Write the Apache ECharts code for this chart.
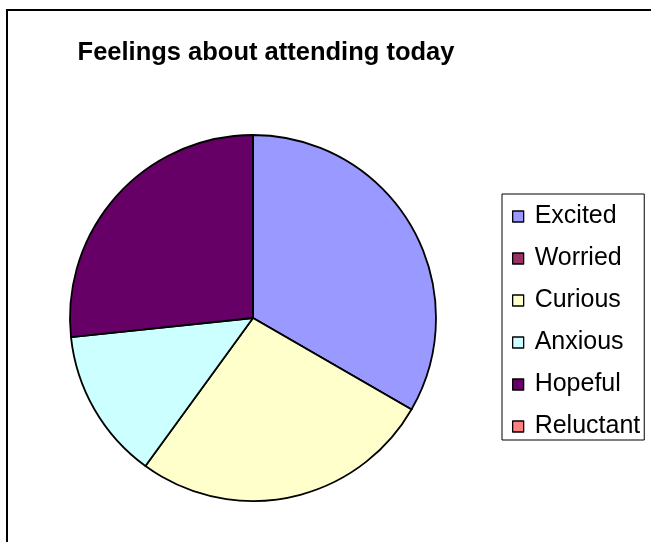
<!DOCTYPE html>
<html>
<head>
<meta charset="utf-8">
<script src="https://cdn.jsdelivr.net/npm/echarts@6/dist/echarts.min.js"></script>
<style>
html,body{margin:0;padding:0;background:#fff;}
#c{width:651px;height:542px;}
</style>
</head>
<body>
<div id="c"></div>
<script>
var titleText = 'Feelings about attending today';
var categories = ['Excited', 'Worried', 'Curious', 'Anxious', 'Hopeful', 'Reluctant'];
var values = [5, 0, 4, 2, 4, 0];
var colors = ['#9999FF', '#993366', '#FFFFCC', '#CCFFFF', '#660066', '#FF8080'];

var chart = echarts.init(document.getElementById('c'), null, {renderer: 'canvas'});
var data = categories.map(function (name, i) {
  return {name: name, value: values[i], itemStyle: {color: colors[i]}};
});
chart.setOption({
  animation: false,
  backgroundColor: '#ffffff',
  title: {
    text: titleText,
    left: 266,
    top: 40,
    textAlign: 'center',
    padding: 0,
    textStyle: {fontFamily: 'Liberation Sans, Arial, sans-serif', fontWeight: 'bold', fontSize: 25.5, color: '#000'}
  },
  graphic: [{
    type: 'rect',
    shape: {x: 7, y: 10, width: 700, height: 600},
    style: {fill: 'none', stroke: '#000', lineWidth: 2},
    z: 100
  }],
  legend: {
    orient: 'vertical',
    left: 502,
    top: 194,
    padding: [10, 4, 1, 10],
    borderColor: '#000',
    borderWidth: 1,
    itemWidth: 11,
    itemHeight: 11,
    itemGap: 17,
    icon: 'rect',
    selectedMode: false,
    itemStyle: {borderColor: '#000', borderWidth: 1.3},
    textStyle: {fontFamily: 'Liberation Sans, Arial, sans-serif', fontSize: 25, color: '#000', padding: [0, 0, 0, 6]},
    data: categories
  },
  series: [{
    type: 'pie',
    center: [253, 318],
    radius: [0, 183],
    startAngle: 90,
    clockwise: true,
    label: {show: false},
    labelLine: {show: false},
    emphasis: {disabled: true},
    itemStyle: {borderColor: '#000', borderWidth: 1.8},
    data: data
  }]
});
</script>
</body>
</html>
